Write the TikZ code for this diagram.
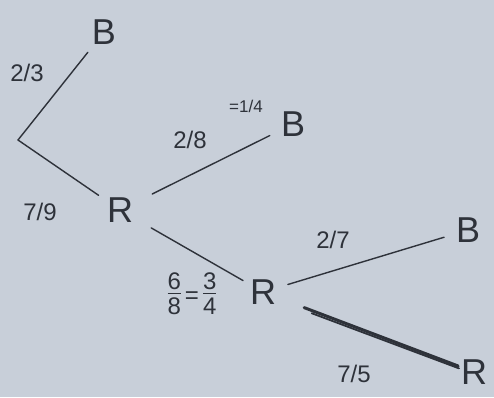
\documentclass[tikz,border=0pt]{standalone}
\usepackage{fontspec}
\setmainfont{Liberation Sans}
\definecolor{paper}{HTML}{C8CFD9}
\definecolor{ink}{HTML}{2E323A}
\newcommand{\myfr}[2]{\begin{tabular}{@{}c@{}}#1\\[-4pt]\hline\rule{0pt}{20pt}#2\end{tabular}}
\begin{document}
\begin{tikzpicture}[x=1pt,y=-1pt,
  letter/.style={text=ink,font=\fontsize{36}{36}\selectfont,inner sep=0pt},
  lab/.style={text=ink,font=\fontsize{24}{24}\selectfont,inner sep=0pt},
  edge/.style={draw=ink,line width=1.4pt,line cap=round}]
\fill[paper] (0,0) rectangle (494,397);
\useasboundingbox (0,0) rectangle (494,397);
\coordinate (root) at (18,140);
\node[letter] (B1) at (104,32) {B};
\node[letter] (R1) at (120,210) {R};
\node[letter] (B2) at (293,124) {B};
\node[letter] (R2) at (263,292) {R};
\node[letter] (B3) at (468,230) {B};
\node[letter] (R3) at (474,372) {R};
\draw[edge,shorten >=26pt] (root) -- (B1.center);
\draw[edge,shorten >=26pt] (root) -- (R1.center);
\draw[edge,shorten <=36pt,shorten >=26pt] (R1.center) -- (B2.center);
\draw[edge,shorten <=36pt,shorten >=23pt] (R1.center) -- (R2.center);
\draw[edge,shorten <=26pt,shorten >=25pt] (R2.center) -- (B3.center);
\draw[edge,line width=3pt,shorten <=44pt,shorten >=17pt] (R2.center) -- (R3.center);
\draw[edge,line width=1.8pt,shorten <=52pt,shorten >=16pt] ([yshift=-3pt]R2.center) -- ([yshift=-2pt]R3.center);
\node[lab] (l1) at (27,73) {2/3};
\node[lab] (l2) at (40,212) {7/9};
\node[lab] (l3) at (190,140) {2/8};
\node[lab,font=\fontsize{17}{17}\selectfont] (l4) at (246,106) {=1/4};
\node[lab,font=\fontsize{24}{24}\selectfont,text=ink] (l5) at (192,297) {\color{ink}\arrayrulewidth=1.3pt\myfr{6}{8}\,=\,\myfr{3}{4}};
\node[lab] (l6) at (333,240) {2/7};
\node[lab] (l7) at (354,374) {7/5};
\end{tikzpicture}
\end{document}
